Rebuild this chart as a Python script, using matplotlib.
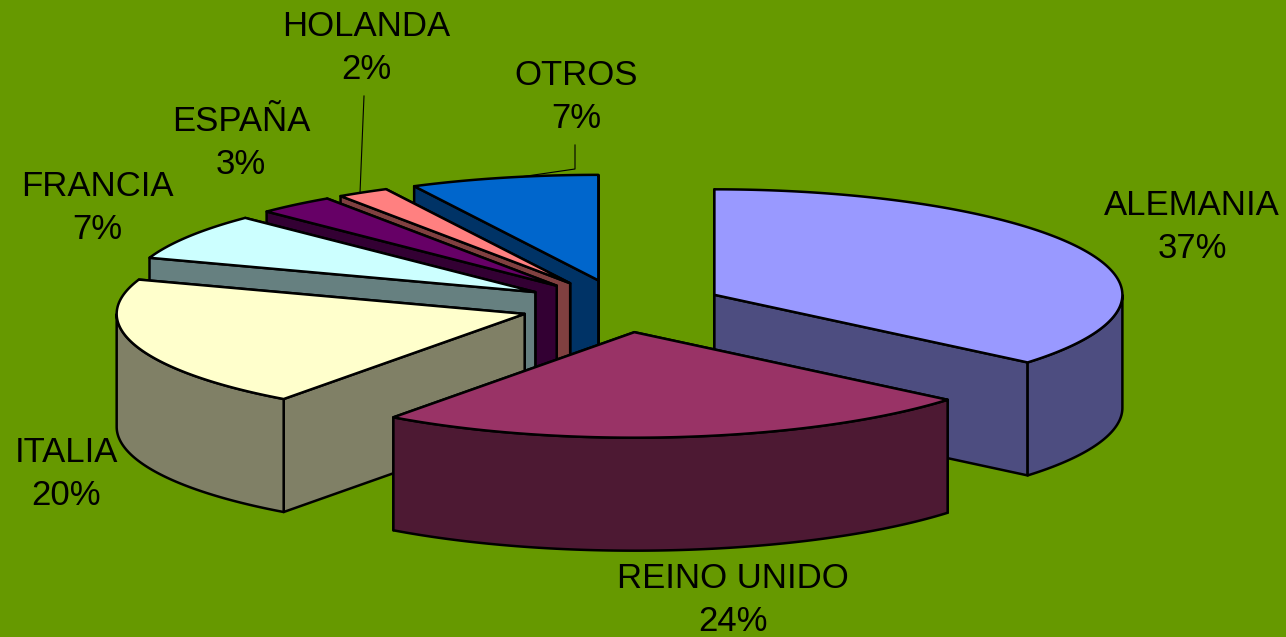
import numpy as np
import matplotlib
matplotlib.use('Agg')
import matplotlib.pyplot as plt

# Porcentajes por país, en el sentido de las agujas del reloj desde las 12
paises = ['ALEMANIA', 'REINO UNIDO', 'ITALIA', 'FRANCIA', 'ESPAÑA', 'HOLANDA', 'OTROS']
valores = [37, 24, 20, 7, 3, 2, 7]

colores = ['#9999FF', '#993366', '#FFFFCC', '#CCFFFF', '#660066', '#FF8080', '#0066CC']
colores_lado = ['#4D4D80', '#4D1933', '#808066', '#668080', '#330033', '#804040', '#003366']

# Posición de cada etiqueta (centro de las dos líneas)
pos_etiquetas = [(1192, 227), (733, 600), (66, 474), (97, 208), (241, 143), (366, 48), (576, 97)]

# Geometría de la tarta en píxeles
CX, CY = 622, 306
A, B = 408, 105.5
ALTO = 113
EXPLOSION = 0.25
CORRECCION = 3.5  # grados, ligera deformación de la vista 3D
FONDO = '#669900'
LW = 1.8

plt.rcParams['font.family'] = ['Liberation Sans', 'DejaVu Sans']

fig = plt.figure(figsize=(12.86, 6.37), dpi=100, facecolor=FONDO)
ax = fig.add_axes([0, 0, 1, 1])
ax.set_xlim(0, 1286)
ax.set_ylim(637, 0)
ax.axis('off')


def punto(ox, oy, ang):
    r = np.radians(ang)
    return ox + A * np.cos(r), oy - B * np.sin(r)


def cara(xs, ys, color, z):
    ax.fill(xs, ys, facecolor=color, edgecolor='black', linewidth=LW, joinstyle='round', zorder=z)


# Ángulos de inicio y fin de cada porción
acumulado = np.cumsum([0] + valores) / sum(valores) * 360
angulos = 90 - acumulado + CORRECCION * np.sqrt(np.sin(np.radians(acumulado / 2)))
inicios = angulos[:-1]
finales = angulos[1:]

# Las de atrás primero; Alemania y Reino Unido quedan delante
orden = [6, 5, 4, 3, 2, 0, 1]
for z, i in enumerate(orden):
    t0, t1 = inicios[i], finales[i]
    medio = (t0 + t1) / 2
    ox, oy = punto(CX, CY, medio)
    ox = CX + EXPLOSION * (ox - CX)
    oy = CY + EXPLOSION * (oy - CY)
    base = z * 10

    # Paredes radiales, primero la más alejada
    paredes = sorted([t0, t1], key=lambda t: punto(ox, oy, t)[1])
    for t in paredes:
        px, py = punto(ox, oy, t)
        cara([ox, px, px, ox], [oy, py, py + ALTO, oy + ALTO], colores_lado[i], base)

    # Lado curvo: solo la parte que mira hacia delante
    angs = np.linspace(t0, t1, 200)
    delante = np.sin(np.radians(angs)) <= 0
    if delante.any():
        xs, ys = punto(ox, oy, angs[delante])
        cara(np.r_[xs, xs[::-1]], np.r_[ys, ys[::-1] + ALTO], colores_lado[i], base + 1)

    # Cara superior
    xs, ys = punto(ox, oy, angs)
    cara(np.r_[ox, xs], np.r_[oy, ys], colores[i], base + 2)

# Líneas guía de HOLANDA y OTROS
ax.plot([364, 363, 360], [96, 120, 193], color='black', linewidth=0.8, zorder=100)
ax.plot([575, 575, 520], [145, 169, 177], color='black', linewidth=0.8, zorder=100)

for nombre, valor, (x, y) in zip(paises, valores, pos_etiquetas):
    ax.text(x, y, f'{nombre}\n{valor}%', ha='center', va='center', fontsize=25,
            color='black', linespacing=1.39, zorder=101)

fig.savefig('out.png', dpi=100, facecolor=FONDO)
